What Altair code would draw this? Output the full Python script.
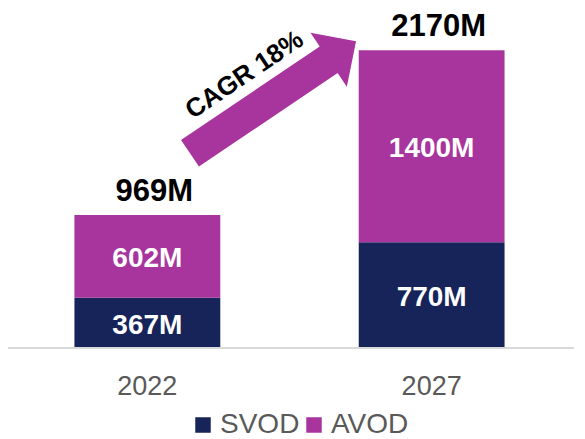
import altair as alt
import pandas as pd

# ---- data ----
years = ["2022", "2027"]
series = ["SVOD", "AVOD"]
svod = [367, 770]
avod = [602, 1400]
totals = [969, 2170]
cagr_label = ["CAGR 18%"]

colors = ["#16245A", "#A8349D"]
FONT = "Liberation Sans"

rows = []
for i, yr in enumerate(years):
    for k, (name, vals) in enumerate(zip(series, [svod, avod])):
        rows.append({"year": yr, "series": name, "value": vals[i],
                     "order": k, "label": f"{vals[i]}M"})
df = pd.DataFrame(rows)
tot = pd.DataFrame({"year": years, "total": totals,
                    "label": [f"{t}M" for t in totals]})
ann = pd.DataFrame({"label": cagr_label})

x_enc = alt.X(
    "year:N",
    sort=years,
    scale=alt.Scale(paddingInner=0.487, paddingOuter=0.2337),
    axis=alt.Axis(title=None, labelAngle=0, domain=False, ticks=False,
                  tickSize=0, grid=False, labelFontSize=27,
                  labelColor="#595959", labelFont=FONT, labelPadding=46,
                  labelBaseline="alphabetic"),
)
y_scale = alt.Scale(domain=[0, 2478], nice=False, zero=True)

base = alt.Chart(df).transform_stack(
    stack="value", groupby=["year"], as_=["y0", "y1"],
    sort=[alt.SortField("order", order="ascending")],
).transform_calculate(mid="(datum.y0 + datum.y1) / 2")

bars = base.mark_bar(strokeWidth=0).encode(
    x=x_enc,
    y=alt.Y("y0:Q", scale=y_scale, axis=None),
    y2="y1:Q",
    color=alt.Color(
        "series:N",
        scale=alt.Scale(domain=series, range=colors),
        legend=alt.Legend(
            title=None, orient="none", legendX=181, legendY=403,
            direction="horizontal", symbolType="square", symbolSize=240,
            symbolStrokeWidth=0, symbolOpacity=1, labelFontSize=28,
            labelFont=FONT, labelColor="#595959", labelOffset=3,
            columnPadding=-4, padding=0,
        ),
    ),
)

inner = base.mark_text(color="white", fontSize=28, fontWeight="bold",
                       font=FONT, baseline="middle", dy=3).encode(
    x=alt.X("year:N", sort=years),
    y=alt.Y("mid:Q", scale=y_scale),
    text="label:N",
)

tops = alt.Chart(tot).mark_text(color="black", fontSize=31, fontWeight="bold",
                                font=FONT, baseline="alphabetic",
                                dy=-14, dx=7).encode(
    x=alt.X("year:N", sort=years),
    y=alt.Y("total:Q", scale=y_scale),
    text="label:N",
)

axis_line = alt.Chart(ann).mark_rule(color="#D9D9D9", strokeWidth=2).encode(
    x=alt.value(0), x2=alt.value(566), y=alt.datum(0)
)

ARROW = "M -1 -0.16 L 0.6705 -0.16 L 0.6705 -0.3245 L 1 0 L 0.6705 0.3245 L 0.6705 0.16 L -1 0.16 Z"
arrow = alt.Chart(ann).mark_point(shape=ARROW, size=40120, angle=326,
                                  filled=True, opacity=1, color=colors[1],
                                  strokeWidth=0).encode(
    x=alt.value(265.0), y=alt.value(89.3)
)

cagr = alt.Chart(ann).mark_text(angle=326, fontSize=26, fontWeight="bold",
                                font=FONT, color="black", baseline="middle",
                                align="center").encode(
    x=alt.value(236.5), y=alt.value(67), text="label:N"
)

chart = alt.layer(bars, inner, tops, axis_line, arrow, cagr).properties(
    width=563, height=340,
    autosize=alt.AutoSizeParams(type="none"),
    padding={"left": 0, "top": 0, "right": 6, "bottom": 91},
).configure_view(stroke=None)

chart.save("out.html", embed_options={"renderer": "svg", "actions": False})
